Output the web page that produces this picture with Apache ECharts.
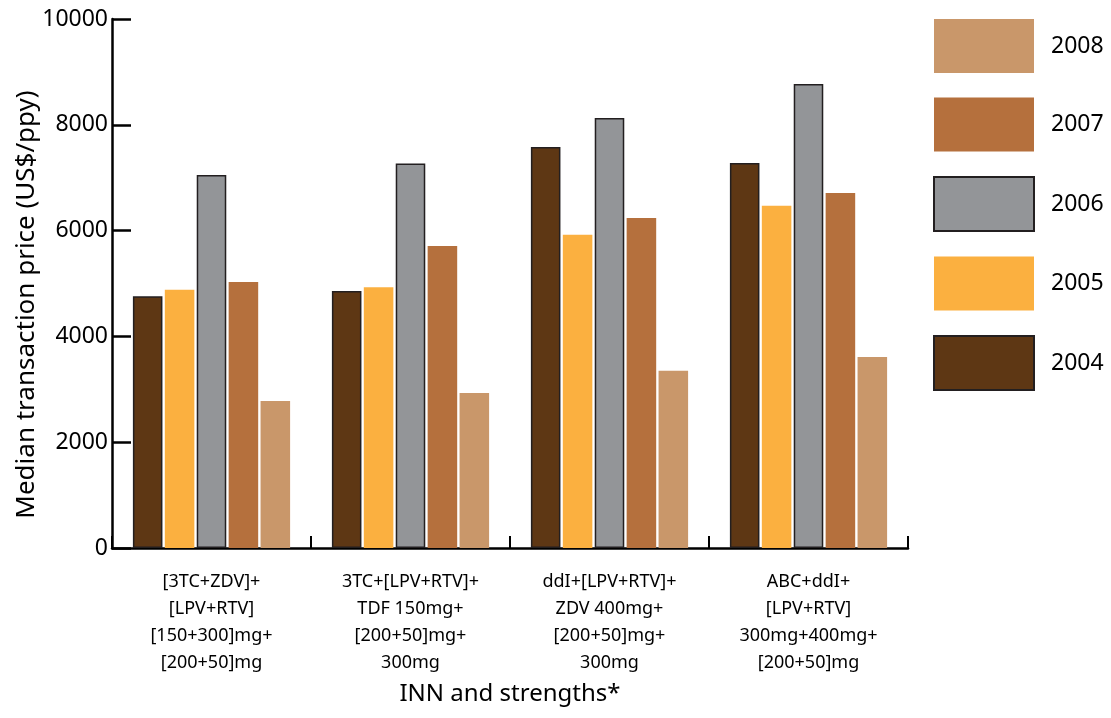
<!DOCTYPE html>
<html>
<head>
<meta charset="utf-8">
<script src="https://cdn.jsdelivr.net/npm/echarts@6/dist/echarts.min.js"></script>
<style>html,body{margin:0;padding:0;background:#fff}#c{width:1111px;height:718px}</style>
</head>
<body>
<div id="c"></div>
<script>
const categories = [
  "[3TC+ZDV]+\n[LPV+RTV]\n[150+300]mg+\n[200+50]mg",
  "3TC+[LPV+RTV]+\nTDF 150mg+\n[200+50]mg+\n300mg",
  "ddI+[LPV+RTV]+\nZDV 400mg+\n[200+50]mg+\n300mg",
  "ABC+ddI+\n[LPV+RTV]\n300mg+400mg+\n[200+50]mg"
];
const years = ["2004", "2005", "2006", "2007", "2008"];
const v2004 = [4760, 4860, 7580, 7280];
const v2005 = [4880, 4930, 5920, 6470];
const v2006 = [7050, 7270, 8130, 8770];
const v2007 = [5030, 5710, 6240, 6710];
const v2008 = [2780, 2930, 3350, 3610];
const yTicks = [0, 2000, 4000, 6000, 8000, 10000];

const colors = {"2004": "#5e3714", "2005": "#fbb040", "2006": "#939598", "2007": "#b5703d", "2008": "#c9976a"};
const bordered = {"2004": true, "2006": true};
const valuesByYear = {"2004": v2004, "2005": v2005, "2006": v2006, "2007": v2007, "2008": v2008};

const FONT = "'Noto Sans', sans-serif";
const chart = echarts.init(document.getElementById('c'), null, {renderer: 'canvas'});
chart.setOption({
  animation: false,
  textStyle: {fontFamily: FONT},
  grid: {left: 112, right: 203, top: 19, bottom: 170, containLabel: false, outerBoundsMode: 'none'},
  legend: {
    orient: 'vertical',
    left: 928, top: 14,
    data: years.slice().reverse(),
    icon: 'rect',
    itemWidth: 100, itemHeight: 54, itemGap: 24.5,
    textStyle: {fontSize: 23, color: '#000', fontFamily: FONT, padding: [0, 0, 0, 12]}
  },
  xAxis: {
    type: 'category',
    data: categories,
    name: 'INN and strengths*',
    nameLocation: 'middle',
    nameGap: 134,
    nameTextStyle: {fontSize: 24, color: '#000', fontFamily: FONT},
    axisLine: {lineStyle: {color: '#000', width: 2.5}},
    axisTick: {show: true, interval: 0, inside: true, length: 12, lineStyle: {color: '#000', width: 2}},
    axisLabel: {fontSize: 18, color: '#000', lineHeight: 27, margin: 20, fontFamily: FONT, interval: 0}
  },
  yAxis: {
    type: 'value',
    min: 0, max: 10000, interval: 2000,
    name: 'Median transaction price (US$/ppy)',
    nameLocation: 'middle',
    nameGap: 72,
    nameMoveOverlap: false,
    nameTextStyle: {fontSize: 26, color: '#000', fontFamily: FONT, padding: [0, 42, 0, 0]},
    splitLine: {show: false},
    axisLine: {show: true, lineStyle: {color: '#000', width: 2.5}},
    axisTick: {show: true, inside: true, length: 19, lineStyle: {color: '#000', width: 2.5}},
    axisLabel: {fontSize: 23, color: '#000', margin: 4, fontFamily: FONT,
      formatter: v => yTicks.includes(v) ? String(v) : ''}
  },
  series: years.map(y => ({
    name: y,
    type: 'bar',
    data: valuesByYear[y],
    barGap: '8%',
    barCategoryGap: '21%',
    itemStyle: {
      color: colors[y],
      borderColor: bordered[y] ? '#231f20' : colors[y],
      borderWidth: bordered[y] ? 1.5 : 0
    }
  }))
});
</script>
</body>
</html>
